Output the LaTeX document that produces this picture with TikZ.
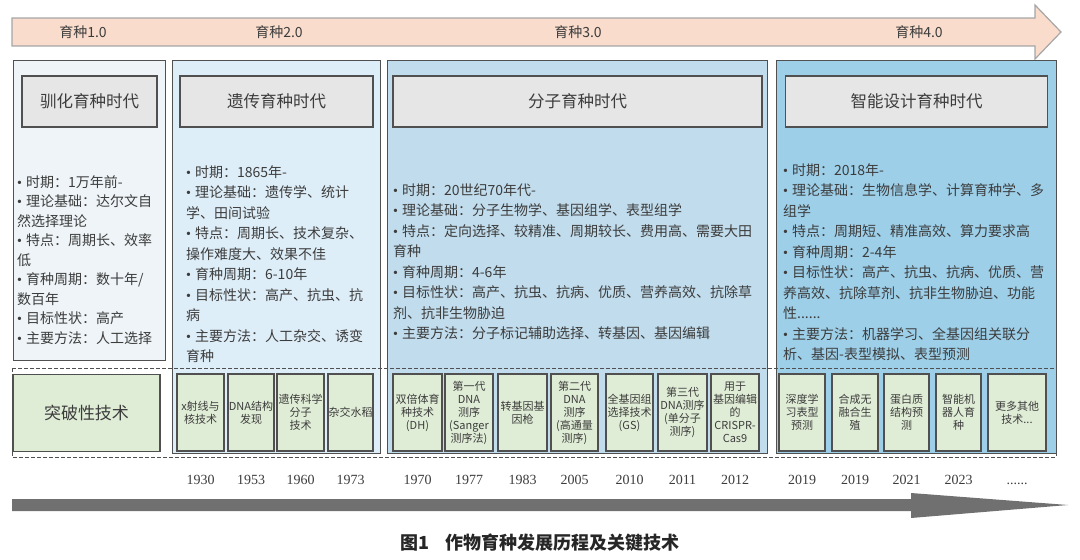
\documentclass[tikz,border=0pt]{standalone}
\usepackage{fontspec}
\setmainfont{Noto Sans CJK SC}
\newfontfamily\yearfont{Liberation Serif}
\usepackage{tikz}
\usetikzlibrary{positioning}
\definecolor{ink}{RGB}{60,60,60}
\definecolor{edge}{RGB}{80,80,80}
\definecolor{peach}{RGB}{249,220,204}
\definecolor{eraA}{RGB}{238,244,247}
\definecolor{eraB}{RGB}{222,238,248}
\definecolor{eraC}{RGB}{193,220,236}
\definecolor{eraD}{RGB}{157,207,233}
\definecolor{titlegray}{RGB}{230,230,230}
\definecolor{techgreen}{RGB}{224,237,214}
\definecolor{timeline}{RGB}{112,112,112}
\newcommand{\moredots}{...}
\newcommand{\yeardots}{......}
\newcommand{\itemdot}{{\yearfont •}\hspace{4pt}}

\begin{document}
\begin{tikzpicture}[x=1pt,y=-1pt,
    erabox/.style={draw=edge,line width=1pt,anchor=north west,inner sep=0pt},
    eratitle/.style={draw=edge,line width=1.5pt,fill=titlegray,minimum height=51pt,
                     inner sep=0pt,text=ink,font=\fontsize{16.5}{18}\selectfont},
    info/.style={anchor=north west,align=left,inner sep=0pt,text=ink,
                 font=\fontsize{14}{20.5}\selectfont},
    techbox/.style={draw=edge,line width=1.3pt,fill=techgreen,minimum height=77pt,
                    inner sep=0pt,align=center,text=ink,font=\fontsize{11}{13}\selectfont},
    yearlabel/.style={anchor=base,text=ink,font=\yearfont\fontsize{14}{16}\selectfont},
    phase/.style={text=ink,font=\fontsize{14}{16}\selectfont}]
  \useasboundingbox (0,0) rectangle (1080,560);

  % top arrow with the four stages
  \draw[draw=black!35,fill=peach,line width=1.2pt]
    (12,18) -- (1035,18) -- (1035,5) -- (1061,32) -- (1035,59) -- (1035,46) -- (12,46) -- cycle;
  \node[phase] (p1) at (83,32)  {育种1.0};
  \node[phase] (p2) at (279,32) {育种2.0};
  \node[phase] (p3) at (578,32) {育种3.0};
  \node[phase] (p4) at (919,32) {育种4.0};

  % era columns
  \node[erabox,fill=eraA,minimum width=152pt,minimum height=300pt] (c1) at (13,60) {};
  \node[erabox,fill=eraB,minimum width=208pt,minimum height=393pt] (c2) at (172,60) {};
  \node[erabox,fill=eraC,minimum width=380pt,minimum height=393pt] (c3) at (387,60) {};
  \node[erabox,fill=eraD,minimum width=280pt,minimum height=393pt] (c4) at (776,60) {};

  \node[eratitle,minimum width=135pt,below=15pt of c1.north] (h1) {驯化育种时代};
  \node[eratitle,minimum width=193pt,below=15pt of c2.north] (h2) {遗传育种时代};
  \node[eratitle,minimum width=369pt,below=15pt of c3.north] (h3) {分子育种时代};
  \node[eratitle,minimum width=262pt,below=15pt of c4.north] (h4) {智能设计育种时代};

  \node[info,font=\fontsize{14}{19.5}\selectfont] (i1) at (17,175)
    {\itemdot 时期：1万年前-\\
     \itemdot 理论基础：达尔文自\\然选择理论\\
     \itemdot 特点：周期长、效率\\低\\
     \itemdot 育种周期：数十年/\\数百年\\
     \itemdot 目标性状：高产\\
     \itemdot 主要方法：人工选择};
  \node[info] (i2) at (186,165)
    {\itemdot 时期：1865年-\\
     \itemdot 理论基础：遗传学、统计\\学、田间试验\\
     \itemdot 特点：周期长、技术复杂、\\操作难度大、效果不佳\\
     \itemdot 育种周期：6-10年\\
     \itemdot 目标性状：高产、抗虫、抗\\病\\
     \itemdot 主要方法：人工杂交、诱变\\育种};
  \node[info] (i3) at (393,183)
    {\itemdot 时期：20世纪70年代-\\
     \itemdot 理论基础：分子生物学、基因组学、表型组学\\
     \itemdot 特点：定向选择、较精准、周期较长、费用高、需要大田\\育种\\
     \itemdot 育种周期：4-6年\\
     \itemdot 目标性状：高产、抗虫、抗病、优质、营养高效、抗除草\\剂、抗非生物胁迫\\
     \itemdot 主要方法：分子标记辅助选择、转基因、基因编辑};
  \node[info] (i4) at (783,163)
    {\itemdot 时期：2018年-\\
     \itemdot 理论基础：生物信息学、计算育种学、多\\组学\\
     \itemdot 特点：周期短、精准高效、算力要求高\\
     \itemdot 育种周期：2-4年\\
     \itemdot 目标性状：高产、抗虫、抗病、优质、营\\养高效、抗除草剂、抗非生物胁迫、功能\\性\yeardots\\
     \itemdot 主要方法：机器学习、全基因组关联分\\析、基因-表型模拟、表型预测};

  % breakthrough technologies row
  \draw[edge,line width=1pt,dash pattern=on 4pt off 2pt] (12,368) rectangle (1056,457);
  \node[techbox,minimum width=147pt,font=\fontsize{17}{20}\selectfont] (brk) at (86.5,413) {突破性技术};

  \coordinate (yearline) at (0,484);
  \foreach \cx/\w/\txt/\yr [count=\i] in {
      200.5/47/{x射线与\\核技术}/1930,
      251/46/{DNA结构\\发现}/1953,
      300.5/47/{遗传科学\\分子\\技术}/1960,
      350.5/45/{杂交水稻}/1973,
      417.5/49/{双倍体育\\种技术\\(DH)}/1970,
      469/48/{第一代\\DNA\\测序\\(Sanger\\测序法)}/1977,
      522.5/49/{转基因基\\因枪}/1983,
      574.5/47/{第二代\\DNA\\测序\\(高通量\\测序)}/2005,
      629.5/47/{全基因组\\选择技术\\(GS)}/2010,
      682.5/49/{第三代\\DNA测序\\(单分子\\测序)}/2011,
      735/48/{用于\\基因编辑\\的\\CRISPR-\\Cas9}/2012,
      802/46/{深度学\\习表型\\预测}/2019,
      855/46/{合成无\\融合生\\殖}/2019,
      906.5/45/{蛋白质\\结构预\\测}/2021,
      958.5/45/{智能机\\器人育\\种}/2023,
      1017/58/{更多其他\\技术\moredots}/\yeardots}{
    \node[techbox,minimum width=\w pt] (t\i) at (\cx,412.5) {\txt};
    \node[yearlabel] (y\i) at (t\i |- yearline) {\yr};
  }

  % time axis
  \fill[timeline]
    (12,499) -- (911,499) -- (911,493) -- (1068,505) -- (911,518) -- (911,511) -- (12,511) -- cycle;

  \node[text=black!85,font=\bfseries\fontsize{18}{20}\selectfont] (cap) at (540,543)
    {图1\hspace{16pt}作物育种发展历程及关键技术};
\end{tikzpicture}
\end{document}
